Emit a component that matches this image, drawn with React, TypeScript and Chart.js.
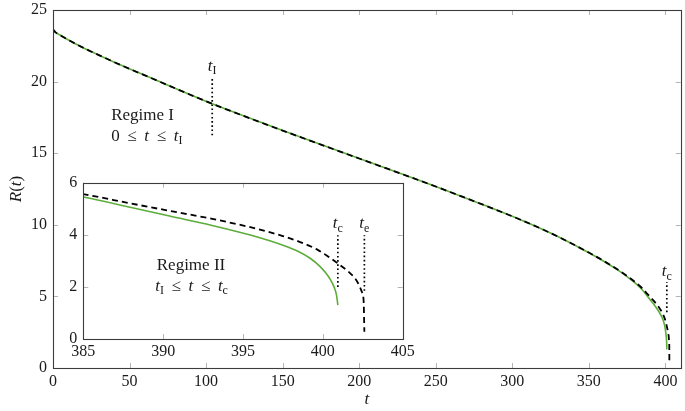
import React, { useEffect, useRef } from 'react';
import { Chart, registerables } from 'chart.js';

Chart.register(...registerables);

// ---- data ----
const tSolid = [0, 1.5, 4.6, 11, 20, 31, 45, 63, 80, 96, 104, 130, 150, 175, 200, 240, 253, 280, 305, 320, 331, 350, 360, 370, 375, 380, 385, 388, 390.4, 393, 395.4, 397.5, 398.5, 399.2, 399.8, 400.2, 400.5, 400.7, 400.85, 400.94];
const rSolid = [23.65, 23.45, 23.25, 22.85, 22.35, 21.8, 21.12, 20.3, 19.52, 18.8, 18.45, 17.38, 16.58, 15.6, 14.63, 13.07, 12.55, 11.44, 10.37, 9.67, 9.11, 8.05, 7.44, 6.76, 6.38, 5.96, 5.45, 5.05, 4.72, 4.37, 4.0, 3.6, 3.35, 3.1, 2.8, 2.52, 2.25, 2.0, 1.7, 1.3];
const tDashed = [0, 1.5, 4.6, 11, 20, 31, 45, 63, 80, 96, 104, 130, 150, 175, 200, 240, 253, 280, 305, 320, 331, 350, 360, 370, 375, 380, 385, 388, 390.4, 393, 395.4, 397.5, 398.5, 399.6, 400.3, 400.94, 401.67, 402.0, 402.2, 402.35, 402.45, 402.55, 402.6];
const rDashed = [23.65, 23.45, 23.25, 22.85, 22.35, 21.8, 21.12, 20.3, 19.52, 18.8, 18.45, 17.38, 16.58, 15.6, 14.63, 13.07, 12.55, 11.44, 10.37, 9.67, 9.11, 8.06, 7.46, 6.79, 6.42, 6.02, 5.56, 5.2, 4.92, 4.62, 4.3, 3.95, 3.74, 3.45, 3.18, 2.9, 2.55, 2.34, 2.15, 1.95, 1.8, 1.5, 0.28];

const mainXTicks = [0, 50, 100, 150, 200, 250, 300, 350, 400];
const mainYTicks = [0, 5, 10, 15, 20, 25];
const insetXTicks = [385, 390, 395, 400, 405];
const insetYTicks = [0, 2, 4, 6];

const tI = 104;
const tC = 400.94;
const tE = 402.6;
const tIMarkR = [16.25, 20.3];
const tCMainMarkR = [3.9, 6.0];
const tCInsetMarkR = [2.0, 3.98];
const tEInsetMarkR = [1.85, 3.98];

// ---- styles ----
const FONT = '"Liberation Serif", "Times New Roman", serif';
const GREEN = '#5cad3a';
const TEXT = '#1a1a1a';
const SP = ' \u2009';

type Part = { s: string; it?: boolean; sub?: boolean };

function drawMath(ctx: CanvasRenderingContext2D, parts: Part[], x: number, yCenter: number, align: 'left' | 'center', size = 17) {
  const fontFor = (p: Part) => `${p.it ? 'italic ' : ''}${p.sub ? Math.round(size * 0.72) : size}px ${FONT}`;
  let total = 0;
  const widths: number[] = [];
  for (const p of parts) {
    ctx.font = fontFor(p);
    const w = ctx.measureText(p.s).width;
    widths.push(w);
    total += w;
  }
  let cx = align === 'center' ? x - total / 2 : x;
  const base = yCenter + size * 0.33;
  ctx.textBaseline = 'alphabetic';
  ctx.textAlign = 'left';
  ctx.fillStyle = TEXT;
  parts.forEach((p, i) => {
    ctx.font = fontFor(p);
    ctx.fillText(p.s, cx, base + (p.sub ? size * 0.2 : 0));
    cx += widths[i];
  });
}

type Ann = { parts: Part[]; t: number; r: number; align: 'left' | 'center' };

function makeDeco(name: string, anns: Ann[], xTicks: number[], yTicks: number[], xLabelOff: number, yLabelOff: number, titles: boolean) {
  return {
    id: 'deco_' + name,
    afterDraw(chart: any) {
      const ctx: CanvasRenderingContext2D = chart.ctx;
      const { left, right, top, bottom } = chart.chartArea;
      const xs = chart.scales.x;
      const ys = chart.scales.y;
      ctx.save();
      // inward ticks
      ctx.strokeStyle = '#b4b4b4';
      ctx.lineWidth = 1;
      const len = 5;
      ctx.beginPath();
      for (const v of xTicks) {
        const px = Math.round(xs.getPixelForValue(v)) + 0.5;
        ctx.moveTo(px, bottom);
        ctx.lineTo(px, bottom - len);
        ctx.moveTo(px, top);
        ctx.lineTo(px, top + len);
      }
      for (const v of yTicks) {
        const py = Math.round(ys.getPixelForValue(v)) + 0.5;
        ctx.moveTo(left, py);
        ctx.lineTo(left + len, py);
        ctx.moveTo(right, py);
        ctx.lineTo(right - len, py);
      }
      ctx.stroke();
      // frame
      ctx.strokeStyle = '#3c3c3c';
      ctx.lineWidth = 1.1;
      ctx.strokeRect(Math.round(left) + 0.5, Math.round(top) + 0.5, Math.round(right) - Math.round(left), Math.round(bottom) - Math.round(top));
      // tick labels
      ctx.fillStyle = TEXT;
      ctx.font = `16px ${FONT}`;
      ctx.textBaseline = 'middle';
      ctx.textAlign = 'center';
      for (const v of xTicks) {
        ctx.fillText(String(v), xs.getPixelForValue(v), bottom + xLabelOff);
      }
      ctx.textAlign = 'right';
      for (const v of yTicks) {
        ctx.fillText(String(v), left - yLabelOff, ys.getPixelForValue(v));
      }
      // annotations
      for (const a of anns) {
        drawMath(ctx, a.parts, xs.getPixelForValue(a.t), ys.getPixelForValue(a.r), a.align, 17);
      }
      if (titles) {
        drawMath(ctx, [{ s: 't', it: true }], (left + right) / 2, bottom + 30, 'center', 17);
        ctx.save();
        ctx.translate(15, (top + bottom) / 2);
        ctx.rotate(-Math.PI / 2);
        drawMath(ctx, [{ s: 'R', it: true }, { s: '(' }, { s: 't', it: true }, { s: ')' }], 0, 0, 'center', 17);
        ctx.restore();
      }
      ctx.restore();
    },
  };
}

function pts(t: number[], r: number[]) {
  return t.map((v, i) => ({ x: v, y: r[i] }));
}

function mark(t: number, r: number[]) {
  return r.map((v) => ({ x: t, y: v }));
}

function lineDatasets(marks: { t: number; r: number[] }[]) {
  const ds: any[] = [
    {
      data: pts(tDashed, rDashed),
      borderColor: '#000000',
      borderWidth: 1.8,
      borderDash: [6, 4],
      cubicInterpolationMode: 'monotone',
      pointRadius: 0,
      order: 0,
      clip: 0,
    },
    {
      data: pts(tSolid, rSolid),
      borderColor: GREEN,
      borderWidth: 1.6,
      cubicInterpolationMode: 'monotone',
      pointRadius: 0,
      order: 1,
      clip: 0,
    },
  ];
  for (const m of marks) {
    ds.push({
      data: mark(m.t, m.r),
      borderColor: '#000000',
      borderWidth: 1.7,
      borderDash: [1.6, 2.6],
      pointRadius: 0,
      order: 2,
      clip: false,
    });
  }
  return ds;
}

function axisOpts(min: number, max: number, isX: boolean, size: number) {
  return {
    type: 'linear',
    min,
    max,
    grid: { display: false, drawTicks: false },
    border: { display: false },
    afterFit: (s: any) => {
      if (isX) s.height = size;
      else s.width = size;
    },
    ticks: { display: false },
  };
}

export default function App() {
  const mainRef = useRef<HTMLCanvasElement>(null);
  const insetRef = useRef<HTMLCanvasElement>(null);

  useEffect(() => {
    document.body.style.margin = '0';
    const mainAnns: Ann[] = [
      { parts: [{ s: 't', it: true }, { s: 'I', sub: true }], t: tI, r: 21.15, align: 'center' },
      { parts: [{ s: 'Regime I' }], t: 38, r: 17.7, align: 'left' },
      { parts: [{ s: '0' + SP + '≤' + SP }, { s: 't', it: true }, { s: SP + '≤' + SP }, { s: 't', it: true }, { s: 'I', sub: true }], t: 38, r: 16.25, align: 'left' },
      { parts: [{ s: 't', it: true }, { s: 'c', sub: true }], t: tC, r: 6.8, align: 'center' },
    ];
    const insetAnns: Ann[] = [
      { parts: [{ s: 't', it: true }, { s: 'c', sub: true }], t: tC, r: 4.46, align: 'center' },
      { parts: [{ s: 't', it: true }, { s: 'e', sub: true }], t: tE, r: 4.46, align: 'center' },
      { parts: [{ s: 'Regime II' }], t: 389.6, r: 2.87, align: 'left' },
      { parts: [{ s: 't', it: true }, { s: 'I', sub: true }, { s: SP + '≤' + SP }, { s: 't', it: true }, { s: SP + '≤' + SP }, { s: 't', it: true }, { s: 'c', sub: true }], t: 389.5, r: 2.07, align: 'left' },
    ];

    const main = new Chart(mainRef.current as HTMLCanvasElement, {
      type: 'line',
      data: { datasets: lineDatasets([{ t: tI, r: tIMarkR }, { t: tC, r: tCMainMarkR }]) },
      options: {
        animation: false,
        responsive: false,
        events: [],
        layout: { padding: { top: 10, right: 4.3, left: 0, bottom: 0 } },
        plugins: { legend: { display: false }, tooltip: { enabled: false } },
        scales: {
          x: axisOpts(0, 410, true, 43),
          y: axisOpts(0, 25, false, 53),
        } as any,
      },
      plugins: [makeDeco('main', mainAnns, mainXTicks, mainYTicks, 14, 6, true)],
    } as any);

    const inset = new Chart(insetRef.current as HTMLCanvasElement, {
      type: 'line',
      data: { datasets: lineDatasets([{ t: tC, r: tCInsetMarkR }, { t: tE, r: tEInsetMarkR }]) },
      options: {
        animation: false,
        responsive: false,
        events: [],
        layout: { padding: { top: 10.7, right: 12.3, left: 0, bottom: 0 } },
        plugins: { legend: { display: false }, tooltip: { enabled: false } },
        scales: {
          x: axisOpts(385, 405, true, 23),
          y: axisOpts(0, 6, false, 28.3),
        } as any,
      },
      plugins: [makeDeco('inset', insetAnns, insetXTicks, insetYTicks, 12.7, 6, false)],
    } as any);

    return () => {
      main.destroy();
      inset.destroy();
    };
  }, []);

  return (
    <div style={{ position: 'relative', width: 685, height: 411, background: '#ffffff' }}>
      <canvas ref={mainRef} width={685} height={411} style={{ position: 'absolute', left: 0, top: 0, width: 685, height: 411 }} />
      <canvas ref={insetRef} width={360} height={190} style={{ position: 'absolute', left: 55, top: 172, width: 360, height: 190 }} />
    </div>
  );
}
